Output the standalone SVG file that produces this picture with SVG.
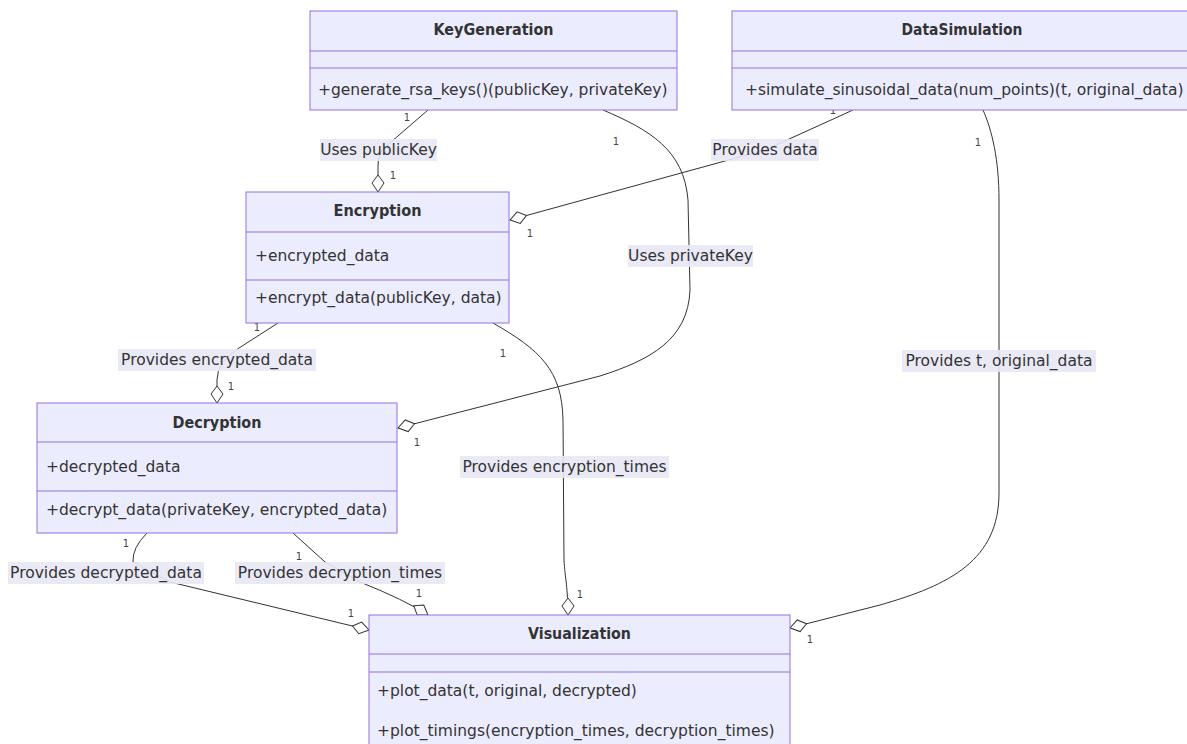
<svg xmlns="http://www.w3.org/2000/svg" width="1187" height="744" viewBox="0 0 1187 744">
<style>
.box{fill:#ECECFF;stroke:#9370DB;stroke-width:1}
.div{stroke:#9370DB;stroke-width:1}
.t{font-family:"DejaVu Sans",sans-serif;font-size:15.5px;fill:#333;dominant-baseline:central}
.title{font-weight:bold;text-anchor:middle}
.edge{fill:none;stroke:#333;stroke-width:1;marker-end:url(#agg)}
.lbg{fill:#E8E8F6;fill-opacity:0.9}
.card{font-family:"DejaVu Sans",sans-serif;font-size:10px;fill:#444;text-anchor:middle;dominant-baseline:central}
</style>
<defs>
<marker id="agg" markerUnits="userSpaceOnUse" markerWidth="20" markerHeight="14" refX="18" refY="7" orient="auto" overflow="visible">
<path d="M1,7 L9,1 L18,7 L9,13 Z" fill="#fff" stroke="#333" stroke-width="1"/>
</marker>
</defs>
<rect width="1187" height="744" fill="#fff"/>
<g id="connectors">
<path class="edge" d="M428,110 L384,148 Q378,154 378,166 L378,192"/>
<path class="edge" d="M603,110 C650,130 684,150 688,200 L690,290 C688,340 650,360 600,376 L398,428"/>
<path class="edge" d="M853,110 L765,150 L510,220"/>
<path class="edge" d="M983,110 C992,130 999,160 999,200 L999,493 C999,560 950,585 880,605 L790,628"/>
<path class="edge" d="M278,323 L239,348 Q217,362 217,380 L217,403"/>
<path class="edge" d="M493,323 C540,350 562,370 563,420 L564,560 C565,578 568,588 568,615"/>
<path class="edge" d="M147,533 Q132,548 133,562 L170,582 L369,630"/>
<path class="edge" d="M293,533 L325,562 L360,582 Q405,600 428,615"/>
<rect class="lbg" x="320" y="139" width="117" height="22"/>
<text class="t" x="378.5" y="150" text-anchor="middle">Uses publicKey</text>
<rect class="lbg" x="628" y="245" width="125" height="22"/>
<text class="t" x="690.5" y="256" text-anchor="middle">Uses privateKey</text>
<rect class="lbg" x="711" y="139" width="108" height="22"/>
<text class="t" x="765" y="150" text-anchor="middle">Provides data</text>
<rect class="lbg" x="902" y="350" width="194" height="22"/>
<text class="t" x="999" y="361" text-anchor="middle">Provides t, original_data</text>
<rect class="lbg" x="118" y="349" width="198" height="22"/>
<text class="t" x="217" y="360" text-anchor="middle">Provides encrypted_data</text>
<rect class="lbg" x="460" y="456" width="209" height="22"/>
<text class="t" x="564.5" y="467" text-anchor="middle">Provides encryption_times</text>
<rect class="lbg" x="8" y="562" width="196" height="22"/>
<text class="t" x="106" y="573" text-anchor="middle">Provides decrypted_data</text>
<rect class="lbg" x="235" y="562" width="210" height="22"/>
<text class="t" x="340" y="573" text-anchor="middle">Provides decryption_times</text>
<text class="card" x="407" y="117">1</text>
<text class="card" x="393" y="175">1</text>
<text class="card" x="616" y="141">1</text>
<text class="card" x="417" y="442">1</text>
<text class="card" x="833" y="110">1</text>
<text class="card" x="530" y="233">1</text>
<text class="card" x="978" y="142">1</text>
<text class="card" x="810" y="639">1</text>
<text class="card" x="257" y="327">1</text>
<text class="card" x="231" y="386">1</text>
<text class="card" x="503" y="353">1</text>
<text class="card" x="580" y="594">1</text>
<text class="card" x="126" y="543">1</text>
<text class="card" x="351" y="613">1</text>
<text class="card" x="299" y="556">1</text>
<text class="card" x="419" y="593">1</text>
</g>
<g id="KeyGeneration">
<rect class="box" x="310" y="11" width="367" height="99"/>
<line class="div" x1="310" y1="51" x2="677" y2="51"/>
<line class="div" x1="310" y1="68" x2="677" y2="68"/>
<text class="t title" x="493.5" y="30" textLength="120" lengthAdjust="spacingAndGlyphs">KeyGeneration</text>
<text class="t" x="318" y="90">+generate_rsa_keys()(publicKey, privateKey)</text>
</g>
<g id="DataSimulation">
<rect class="box" x="732" y="11" width="460" height="99"/>
<line class="div" x1="732" y1="51" x2="1192" y2="51"/>
<line class="div" x1="732" y1="68" x2="1192" y2="68"/>
<text class="t title" x="962" y="30" textLength="121" lengthAdjust="spacingAndGlyphs">DataSimulation</text>
<text class="t" x="745" y="90">+simulate_sinusoidal_data(num_points)(t, original_data)</text>
</g>
<g id="Encryption">
<rect class="box" x="246" y="192" width="263" height="131"/>
<line class="div" x1="246" y1="232" x2="509" y2="232"/>
<line class="div" x1="246" y1="280" x2="509" y2="280"/>
<text class="t title" x="377.5" y="211" textLength="88" lengthAdjust="spacingAndGlyphs">Encryption</text>
<text class="t" x="255" y="256">+encrypted_data</text>
<text class="t" x="255" y="298">+encrypt_data(publicKey, data)</text>
</g>
<g id="Decryption">
<rect class="box" x="37" y="403" width="360" height="130"/>
<line class="div" x1="37" y1="442" x2="397" y2="442"/>
<line class="div" x1="37" y1="491" x2="397" y2="491"/>
<text class="t title" x="217" y="423" textLength="89" lengthAdjust="spacingAndGlyphs">Decryption</text>
<text class="t" x="46" y="467">+decrypted_data</text>
<text class="t" x="46" y="510">+decrypt_data(privateKey, encrypted_data)</text>
</g>
<g id="Visualization">
<rect class="box" x="369" y="615" width="421" height="140"/>
<line class="div" x1="369" y1="654" x2="790" y2="654"/>
<line class="div" x1="369" y1="672" x2="790" y2="672"/>
<text class="t title" x="579.5" y="634" textLength="103" lengthAdjust="spacingAndGlyphs">Visualization</text>
<text class="t" x="377" y="691">+plot_data(t, original, decrypted)</text>
<text class="t" x="377" y="731">+plot_timings(encryption_times, decryption_times)</text>
</g>
</svg>
